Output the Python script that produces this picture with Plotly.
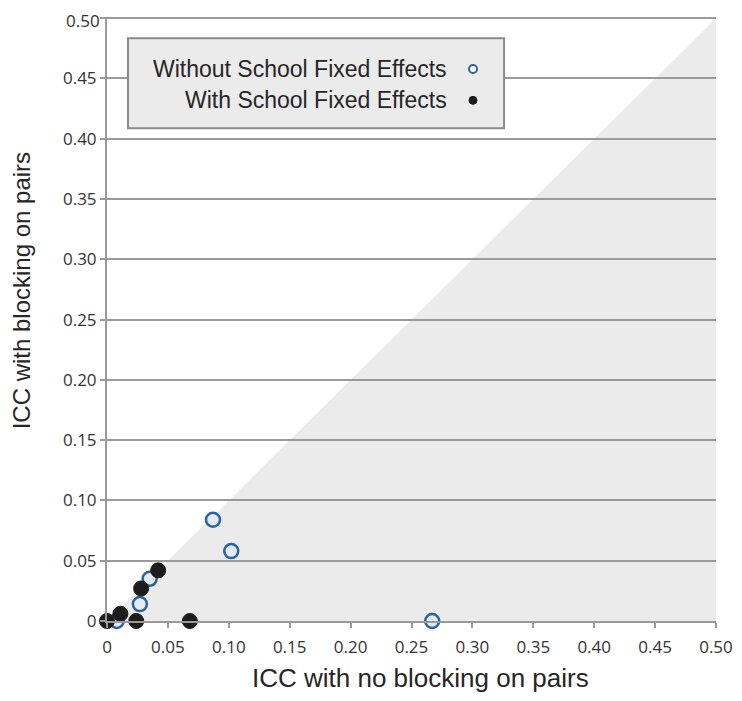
import plotly.graph_objects as go

# Data
without_x = [0.267, 0.087, 0.102, 0.035, 0.027, 0.008]
without_y = [0.0, 0.084, 0.058, 0.035, 0.014, 0.0]
with_x = [0.0, 0.011, 0.024, 0.028, 0.042, 0.068]
with_y = [0.0, 0.006, 0.0, 0.027, 0.042, 0.0]

tick_vals = [0, 0.05, 0.10, 0.15, 0.20, 0.25, 0.30, 0.35, 0.40, 0.45, 0.50]
tick_text = ["0", "0.05", "0.10", "0.15", "0.20", "0.25", "0.30", "0.35", "0.40", "0.45", "0.50"]
axis_max = 0.50

FONT = "Liberation Sans, Arial, sans-serif"
TICKFONT = "Open Sans, sans-serif"
GRID = "#9a9a9a"
TXT = "#262626"

fig = go.Figure()

fig.add_trace(go.Scatter(
    x=without_x, y=without_y, mode="markers", name="Without School Fixed Effects",
    marker=dict(symbol="circle", size=14, color="#e3ebf5",
                line=dict(color="#2a64a0", width=2.5)),
    showlegend=False, cliponaxis=False))
fig.add_trace(go.Scatter(
    x=with_x, y=with_y, mode="markers", name="With School Fixed Effects",
    marker=dict(symbol="circle", size=15, color="#1c1c1c",
                line=dict(color="#1c1c1c", width=1)),
    showlegend=False, cliponaxis=False))

shapes = [
    dict(type="path", xref="x", yref="y",
         path=f"M 0 0 L {axis_max} 0 L {axis_max} {axis_max} Z",
         fillcolor="#ebebeb", line=dict(width=0), layer="below"),
    dict(type="rect", xref="paper", yref="paper", x0=0.0345, x1=0.652, y0=0.816, y1=0.965,
         fillcolor="#ebebeb", line=dict(color="#8a8a8a", width=2), layer="above"),
    dict(type="circle", xref="paper", yref="paper", xsizemode="pixel", ysizemode="pixel",
         xanchor=0.601, yanchor=0.914, x0=-4, x1=4, y0=-4, y1=4,
         fillcolor="#ffffff", line=dict(color="#2a64a0", width=2), layer="above"),
    dict(type="circle", xref="paper", yref="paper", xsizemode="pixel", ysizemode="pixel",
         xanchor=0.601, yanchor=0.862, x0=-4, x1=4, y0=-4, y1=4,
         fillcolor="#1c1c1c", line=dict(color="#1c1c1c", width=1), layer="above"),
]

annotations = [
    dict(text="Without School Fixed Effects", xref="paper", yref="paper", x=0.562, y=0.914,
         xanchor="right", yanchor="middle", showarrow=False,
         font=dict(family=FONT, size=23, color=TXT)),
    dict(text="With School Fixed Effects", xref="paper", yref="paper", x=0.562, y=0.862,
         xanchor="right", yanchor="middle", showarrow=False,
         font=dict(family=FONT, size=23, color=TXT)),
    dict(text="ICC with no blocking on pairs", xref="paper", yref="paper", x=0.514, y=-0.094,
         xanchor="center", yanchor="middle", showarrow=False,
         font=dict(family=FONT, size=26, color=TXT)),
    dict(text="ICC with blocking on pairs", xref="paper", yref="paper", x=-0.141, y=0.546,
         xanchor="center", yanchor="middle", showarrow=False, textangle=-90,
         font=dict(family=FONT, size=24, color=TXT)),
    # top y tick label (would otherwise be hidden at the figure edge)
    dict(text=tick_text[-1], xref="paper", yref="y", x=0, y=tick_vals[-1],
         xanchor="right", yanchor="middle", xshift=-6, yshift=-2, borderpad=0,
         showarrow=False, font=dict(family=TICKFONT, size=17, color="#333333")),
]

fig.update_layout(
    width=726, height=685,
    margin=dict(l=99, r=18, t=9, b=72, autoexpand=False),
    paper_bgcolor="white", plot_bgcolor="white",
    font=dict(family=FONT, color=TXT),
    shapes=shapes, annotations=annotations,
    xaxis=dict(range=[0, axis_max], tickvals=tick_vals, ticktext=tick_text,
               showgrid=False, zeroline=False, showline=True, linecolor=GRID, linewidth=2,
               ticks="outside", ticklen=5, tickwidth=2, tickcolor=GRID, automargin=False,
               ticklabelstandoff=5,
               tickfont=dict(family=TICKFONT, size=17, color="#333333")),
    yaxis=dict(range=[0, axis_max * 1.002], tickvals=tick_vals, ticktext=tick_text,
               showgrid=True, gridcolor=GRID, gridwidth=2, zeroline=False,
               showline=True, linecolor=GRID, linewidth=2, automargin=False,
               ticks="outside", ticklen=5, tickwidth=2, tickcolor=GRID,
               tickfont=dict(family=TICKFONT, size=17, color="#333333")),
)

fig.write_html("out.html")
